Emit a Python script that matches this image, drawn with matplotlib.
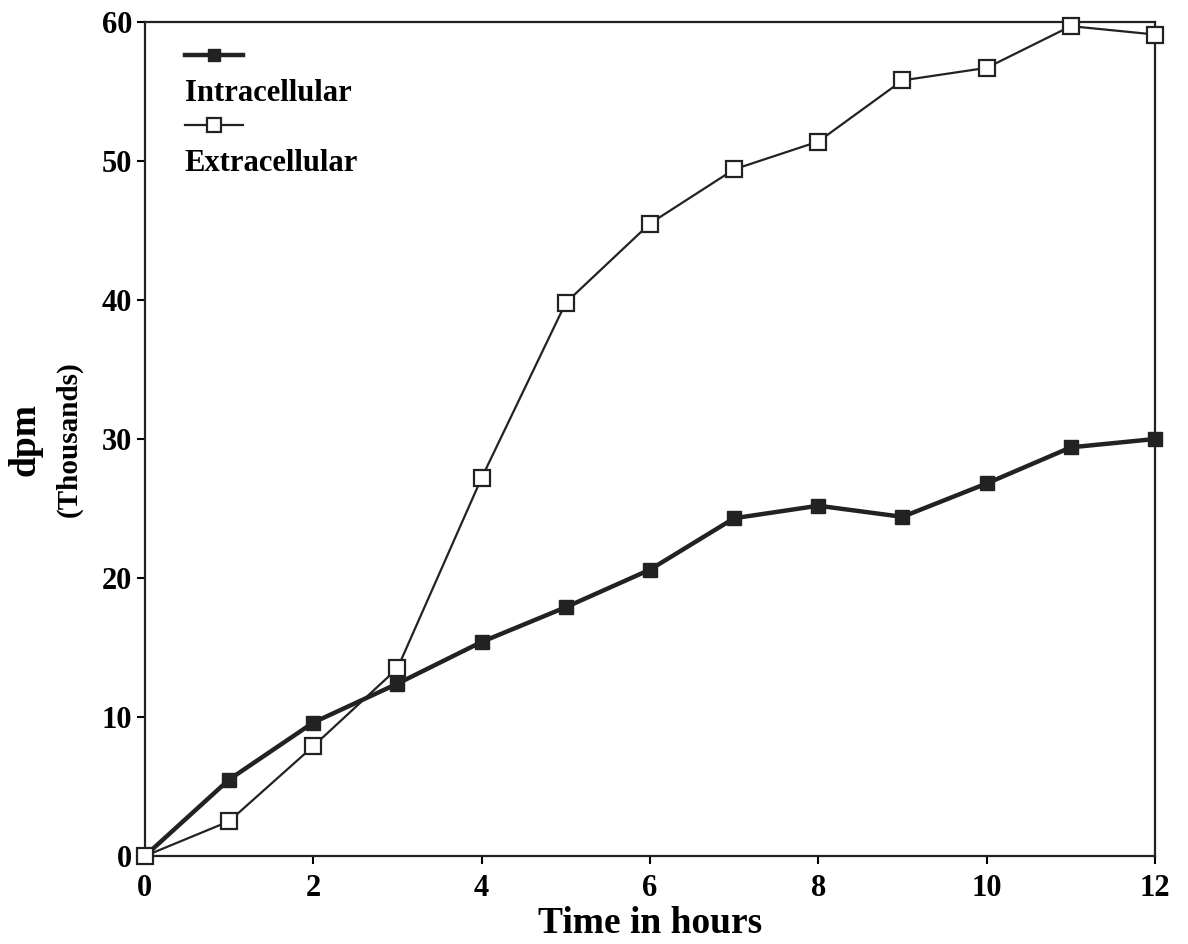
import numpy as np
import matplotlib
matplotlib.use("Agg")
import matplotlib.pyplot as plt
from matplotlib.lines import Line2D

plt.rcParams['font.family'] = ['Liberation Serif', 'DejaVu Serif']
plt.rcParams['font.weight'] = 'bold'
plt.rcParams['axes.labelweight'] = 'bold'

hours = [0, 1, 2, 3, 4, 5, 6, 7, 8, 9, 10, 11, 12]
intracellular = [0, 5.5, 9.6, 12.4, 15.4, 17.9, 20.6, 24.3, 25.2, 24.4, 26.8, 29.4, 30.0]
extracellular = [0, 2.5, 7.9, 13.5, 27.2, 39.8, 45.5, 49.4, 51.4, 55.8, 56.7, 59.7, 59.1]
xticks = [0, 2, 4, 6, 8, 10, 12]
yticks = [0, 10, 20, 30, 40, 50, 60]

fig = plt.figure(figsize=(11.88, 9.44), dpi=100)
ax = fig.add_axes([0.122, 0.0932, 0.8502, 0.8835])

l1, = ax.plot(hours, intracellular, color='#222222', lw=3.2, marker='s',
              ms=10, mfc='#222222', mec='#222222', clip_on=False, zorder=3)
l2, = ax.plot(hours, extracellular, color='#222222', lw=1.6, marker='s',
              ms=11, mfc='white', mec='#222222', mew=1.6, clip_on=False, zorder=4)

ax.set_xlim(0, 12)
ax.set_ylim(0, 60)
ax.set_xticks(xticks)
ax.set_yticks(yticks)
ax.tick_params(axis='both', direction='out', length=6, width=1.5, labelsize=22)
ax.tick_params(axis='x', pad=7)
ax.tick_params(axis='y', pad=3)
for s in ax.spines.values():
    s.set_linewidth(1.6)
    s.set_color('#222222')

ax.set_xlabel('Time in hours', fontsize=27, labelpad=2)
ax.text(-0.119, 0.5, 'dpm', transform=ax.transAxes, rotation=90,
        fontsize=27, ha='center', va='center')
ax.text(-0.075, 0.5, '(Thousands)', transform=ax.transAxes, rotation=90,
        fontsize=21, ha='center', va='center')

blank = Line2D([], [], color='none')
leg = ax.legend([l1, blank, l2, blank], ['', 'Intracellular', '', 'Extracellular'],
                loc='upper left', bbox_to_anchor=(0.012, 1.007), frameon=False,
                fontsize=22, handlelength=1.9, handletextpad=-1.9,
                labelspacing=0.2, numpoints=1, markerscale=0.9)

fig.savefig('out.png', dpi=100)
